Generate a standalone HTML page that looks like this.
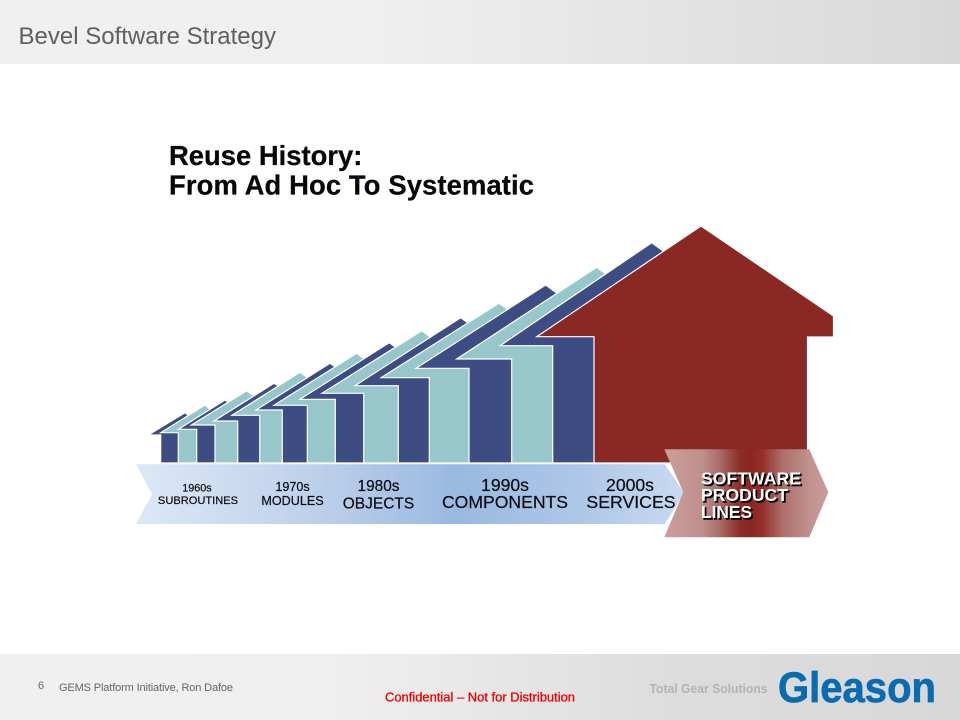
<!DOCTYPE html>
<html lang="en">
<head>
<meta charset="utf-8">
<title>Bevel Software Strategy</title>
<style>
html,body{margin:0;padding:0;background:#fff;width:960px;height:720px;overflow:hidden}
svg{display:block}
text{font-family:"Liberation Sans",Arial,sans-serif}
.lbl{fill:#0b0b12;stroke:#0b0b12;stroke-width:.2;text-anchor:middle}
.h{stroke:#fff;stroke-width:1.2;stroke-linejoin:miter}
.n{fill:#3d4c82}
.t{fill:#97c7cb}
</style>
</head>
<body>
<svg xmlns="http://www.w3.org/2000/svg" width="960" height="720" viewBox="0 0 960 720">
<defs>
<linearGradient id="hg" x1="0" x2="1" y1="0" y2="0"><stop offset="0" stop-color="#f0f0f0"/><stop offset=".4" stop-color="#efefef"/><stop offset="1" stop-color="#d8d8d8"/></linearGradient>
<linearGradient id="fg" x1="0" x2="1" y1="0" y2="0"><stop offset="0" stop-color="#f0f0f0"/><stop offset=".35" stop-color="#efefef"/><stop offset=".7" stop-color="#dddddd"/><stop offset="1" stop-color="#d8d8d8"/></linearGradient>
<linearGradient id="bandg" gradientUnits="userSpaceOnUse" x1="136" x2="685" y1="0" y2="0"><stop offset="0" stop-color="#dde8f7"/><stop offset=".33" stop-color="#bdd0ea"/><stop offset=".58" stop-color="#9ab9e0"/><stop offset=".8" stop-color="#acc6e6"/><stop offset="1" stop-color="#c8daf1"/></linearGradient>
<linearGradient id="redg" gradientUnits="userSpaceOnUse" x1="664" x2="828" y1="0" y2="0"><stop offset="0" stop-color="#cb9f9b"/><stop offset=".24" stop-color="#bf8f8a"/><stop offset=".34" stop-color="#a86c67"/><stop offset=".46" stop-color="#8c2e29"/><stop offset=".53" stop-color="#8a2622"/><stop offset=".6" stop-color="#952f2b"/><stop offset=".72" stop-color="#ac6e69"/><stop offset=".9" stop-color="#c29490"/><stop offset="1" stop-color="#c99c98"/></linearGradient>
</defs>

<rect x="0" y="0" width="960" height="64" fill="url(#hg)"/>
<text x="18.5" y="44" font-size="24" fill="#5f5f5f" textLength="257.5">Bevel Software Strategy</text>

<text x="169" y="165" font-size="27.4" font-weight="700" fill="#08080c" stroke="#08080c" stroke-width=".25">Reuse History:</text>
<text x="169" y="194.5" font-size="27.4" font-weight="700" fill="#08080c" stroke="#08080c" stroke-width=".25" textLength="365">From Ad Hoc To Systematic</text>

<g>
<polygon class="h n" points="148.3,435 185,412.7 189,416 189,463 160.7,463 160.7,435"/>
<polygon class="h t" points="160.7,432.7 205,405 210,409 210,463 178.3,463 178.3,432.7"/>
<polygon class="h n" points="178.5,429.3 225,400 231,404 231,463 196.7,463 196.7,429.3"/>
<polygon class="h t" points="191.4,425 246.7,390.7 253,395 253,463 215,463 215,425"/>
<polygon class="h n" points="214,421 274,383.3 281,388 281,463 237.7,463 237.7,421"/>
<polygon class="h t" points="232,415.3 300,372.3 308,378 308,463 259.7,463 259.7,415.3"/>
<polygon class="h n" points="256,410 330,363.3 338,369 338,463 282.3,463 282.3,410"/>
<polygon class="h t" points="274,405.3 356.7,353.3 365,359.3 365,463 307.3,463 307.3,405.3"/>
<polygon class="h n" points="300,399.3 389.3,342.7 399,349.8 399,463 335.3,463 335.3,399.3"/>
<polygon class="h t" points="322,393.3 421.7,330.7 432,338.2 432,463 363.7,463 363.7,393.3"/>
<polygon class="h n" points="355,385.7 460.7,317.7 472,326 472,463 398.3,463 398.3,385.7"/>
<polygon class="h t" points="381,377.7 499,303.3 511,312 511,463 429.3,463 429.3,377.7"/>
<polygon class="h n" points="416,368.3 545.7,285 558,294 558,463 469,463 469,368.3"/>
<polygon class="h t" points="456.7,359 596.7,267.3 610,277 610,463 511.7,463 511.7,359"/>
<polygon class="h n" points="500,345.7 651.7,242.7 665,252.4 665,463 552.7,463 552.7,345.7"/>
<polygon class="h" fill="#8a2824" points="536.7,336.7 701,226 833.5,316 833.5,337 807.5,337 807.5,463 594,463 594,336.7"/>
</g>

<polygon points="136,464.2 665,464.2 684,493 665,524 136,524 152,494" fill="url(#bandg)"/>

<g>
<text class="lbl" x="197" y="491.7" font-size="10.8">1960s</text>
<text class="lbl" x="198" y="504" font-size="11.1">SUBROUTINES</text>
<text class="lbl" x="292.5" y="491" font-size="12.6">1970s</text>
<text class="lbl" x="292.5" y="505" font-size="12.6">MODULES</text>
<text class="lbl" x="378.5" y="491" font-size="15.4">1980s</text>
<text class="lbl" x="378.5" y="508.3" font-size="15.5">OBJECTS</text>
<text class="lbl" x="505" y="491" font-size="17.6">1990s</text>
<text class="lbl" x="505" y="508" font-size="17.6">COMPONENTS</text>
<text class="lbl" x="630" y="491" font-size="17.6">2000s</text>
<text class="lbl" x="631" y="508" font-size="17.7">SERVICES</text>
</g>

<polygon points="664.3,449.3 809.3,449.3 828.3,492.3 809.3,537.3 664.3,537.3 683.3,492.3" fill="url(#redg)"/>
<g font-size="17.6" font-weight="700">
<g fill="#000" stroke="#000" stroke-width=".6">
<text x="702.5" y="486.2" textLength="100" lengthAdjust="spacingAndGlyphs">SOFTWARE</text>
<text x="702.5" y="502.7" textLength="87" lengthAdjust="spacingAndGlyphs">PRODUCT</text>
<text x="702.5" y="519.7" textLength="51" lengthAdjust="spacingAndGlyphs">LINES</text>
</g>
<g fill="#fff">
<text x="701" y="484.7" textLength="100" lengthAdjust="spacingAndGlyphs">SOFTWARE</text>
<text x="701" y="501.2" textLength="87" lengthAdjust="spacingAndGlyphs">PRODUCT</text>
<text x="701" y="518.2" textLength="51" lengthAdjust="spacingAndGlyphs">LINES</text>
</g>
</g>

<rect x="0" y="654" width="960" height="66" fill="url(#fg)"/>
<text x="38" y="689" font-size="11" fill="#666">6</text>
<text x="59" y="691" font-size="11" fill="#666" textLength="174">GEMS  Platform Initiative,  Ron Dafoe</text>
<text x="385" y="701.5" font-size="12.5" fill="#f00000" stroke="#f00000" stroke-width=".3" textLength="190" lengthAdjust="spacingAndGlyphs">Confidential  – Not for Distribution</text>
<text x="649.5" y="693" font-size="12.5" font-weight="700" fill="#b3b3b3" textLength="118" lengthAdjust="spacingAndGlyphs">Total Gear Solutions</text>
<text x="778" y="702" font-size="43" font-weight="700" fill="#0a6cb0" stroke="#0a6cb0" stroke-width=".7" textLength="158" lengthAdjust="spacingAndGlyphs">Gleason</text>
</svg>
</body>
</html>
